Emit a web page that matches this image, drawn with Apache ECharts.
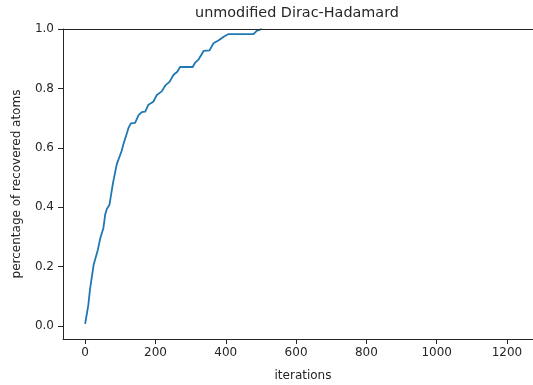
<!DOCTYPE html>
<html>
<head>
<meta charset="utf-8">
<script src="https://cdn.jsdelivr.net/npm/echarts@6/dist/echarts.min.js"></script>
<style>
html,body{margin:0;padding:0;background:#fff;}
#chart{width:533px;height:385px;}
</style>
</head>
<body>
<div id="chart"></div>
<script>
// ---- data ----
var iterations = [0, 9, 14, 24, 31, 36, 43, 52, 57, 62, 69, 79, 90, 104, 109, 119, 123, 130, 142, 152, 161, 171, 180, 194, 204, 218, 228, 240, 251, 262, 270, 306, 313, 323, 337, 354, 365, 379, 394, 408, 479, 488, 503];
var recovered  = [0.007, 0.07, 0.125, 0.205, 0.235, 0.256, 0.295, 0.33, 0.375, 0.395, 0.407, 0.48, 0.545, 0.59, 0.613, 0.65, 0.666, 0.682, 0.684, 0.71, 0.72, 0.722, 0.745, 0.755, 0.778, 0.79, 0.81, 0.822, 0.845, 0.856, 0.872, 0.872, 0.887, 0.898, 0.926, 0.928, 0.952, 0.961, 0.974, 0.983, 0.983, 0.994, 1.0];
var xTicks = [0, 200, 400, 600, 800, 1000, 1200];
var yTicks = [0.0, 0.2, 0.4, 0.6, 0.8, 1.0];
var titleText = 'unmodified Dirac-Hadamard';
var xLabel = 'iterations';
var yLabel = 'percentage of recovered atoms';

var seriesData = iterations.map(function (v, i) { return [v, recovered[i]]; });

var FONT = 'DejaVu Sans';
var TXT = '#262626';
var AX = '#262626';

var chart = echarts.init(document.getElementById('chart'), null, {renderer: 'canvas'});
chart.setOption({
  animation: false,
  backgroundColor: '#fff',
  grid: {left: 63, top: 29, right: 0, bottom: 46, containLabel: false},
  xAxis: [{
    type: 'value', min: -63, max: 1274, position: 'bottom',
    splitLine: {show: false},
    axisLine: {show: true, onZero: false, lineStyle: {color: AX, width: 1}},
    axisTick: {show: true, length: 5, inside: false, customValues: xTicks, lineStyle: {color: AX, width: 1}},
    axisLabel: {show: true, margin: 8, customValues: xTicks, color: TXT, fontFamily: FONT, fontSize: 12,
      formatter: function (v) { return String(v); }}
  }, {
    type: 'value', min: -63, max: 1274, position: 'top', z: 5,
    splitLine: {show: false},
    axisLine: {show: true, onZero: false, lineStyle: {color: AX, width: 1}},
    axisTick: {show: false}, axisLabel: {show: false}
  }],
  yAxis: {
    type: 'value', min: -0.044, max: 1.0,
    splitLine: {show: false},
    axisLine: {show: true, onZero: false, lineStyle: {color: AX, width: 1}},
    axisTick: {show: true, length: 5, customValues: yTicks, lineStyle: {color: AX, width: 1}},
    axisLabel: {show: true, margin: 9, customValues: yTicks, color: TXT, fontFamily: FONT, fontSize: 12,
      formatter: function (v) { return Number(v).toFixed(1); }}
  },
  series: [{
    type: 'line', xAxisIndex: 0, yAxisIndex: 0,
    data: seriesData, symbol: 'none', clip: true,
    lineStyle: {color: '#1f77b4', width: 1.8}
  }],
  graphic: [
    {type: 'text', x: 297, y: 13, style: {text: titleText, fill: TXT, font: '14.4px "DejaVu Sans"', textAlign: 'center', textVerticalAlign: 'middle'}},
    {type: 'text', x: 303, y: 376, style: {text: xLabel, fill: TXT, font: '12px "DejaVu Sans"', textAlign: 'center', textVerticalAlign: 'middle'}},
    {type: 'text', x: 17, y: 184, rotation: Math.PI / 2, style: {text: yLabel, fill: TXT, font: '12px "DejaVu Sans"', textAlign: 'center', textVerticalAlign: 'middle'}}
  ]
});
</script>
</body>
</html>
